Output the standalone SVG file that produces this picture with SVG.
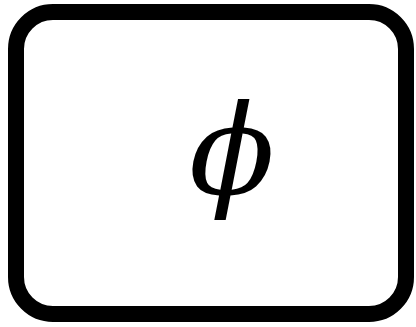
<svg xmlns="http://www.w3.org/2000/svg" width="416" height="327" viewBox="0 0 416 327">
<style>
.box{fill:#fff;stroke:#000;stroke-width:16}
.lbl{font-family:"DejaVu Serif",serif;font-style:italic;font-size:126px;fill:#000}
</style>
<rect width="416" height="327" fill="#fff"/>
<g id="node1">
<rect class="box" x="16" y="12" width="390" height="302" rx="37" ry="37"/>
<text class="lbl" x="232" y="194" text-anchor="middle">ϕ</text>
</g>
</svg>
